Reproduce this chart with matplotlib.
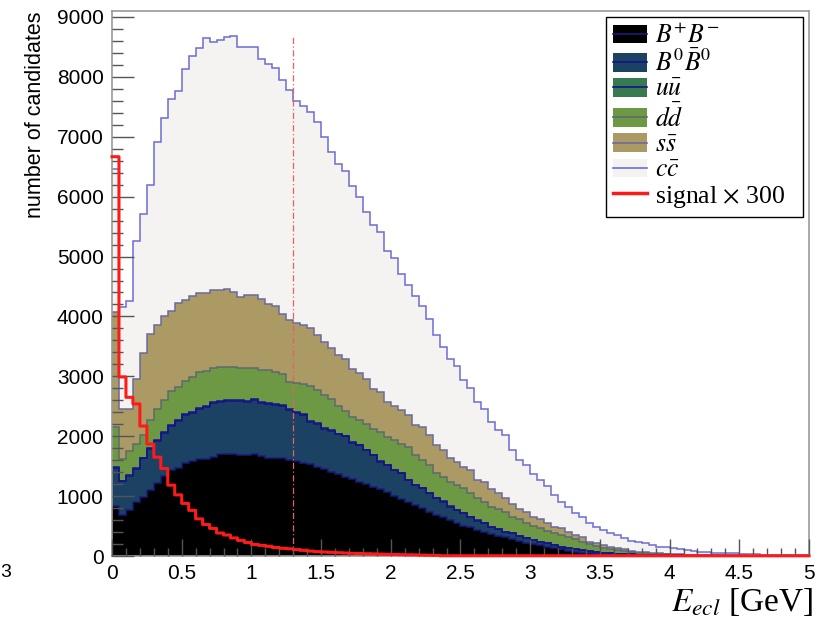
import numpy as np
import matplotlib
matplotlib.use("Agg")
import matplotlib.pyplot as plt
from matplotlib.patches import Patch
from matplotlib.lines import Line2D
from matplotlib.legend_handler import HandlerTuple
from matplotlib.ticker import MultipleLocator

plt.rcParams['font.family'] = ['Liberation Sans', 'DejaVu Sans']
plt.rcParams['mathtext.fontset'] = 'stix'

# 100 bins of 0.05 GeV between 0 and 5 GeV
E_MIN, E_MAX, N_BINS = 0.0, 5.0, 100
edges = np.linspace(E_MIN, E_MAX, N_BINS + 1)

bpbm = [840, 683, 760, 906, 989, 1100, 1211, 1333, 1433, 1470,
        1556, 1585, 1615, 1620, 1655, 1700, 1705, 1711, 1694, 1683,
        1700, 1667, 1644, 1644, 1628, 1600, 1589, 1561, 1533, 1489,
        1461, 1406, 1372, 1322, 1278, 1239, 1200, 1156, 1111, 1072,
        1000, 944, 906, 850, 794, 739, 683, 644, 600, 544,
        500, 478, 433, 406, 367, 333, 311, 278, 256, 222,
        200, 178, 156, 128, 111, 89, 72, 56, 44, 33,
        28, 24, 20, 17, 14, 12, 10, 8, 7, 6,
        5, 4, 4, 3, 3, 3, 2, 2, 2, 2,
        1, 1, 1, 1, 1, 1, 0, 0, 0, 0]

b0b0 = [625, 567, 580, 554, 641, 690, 709, 717, 737, 780,
        794, 805, 846, 870, 895, 872, 890, 878, 889, 889,
        900, 889, 889, 873, 872, 833, 800, 789, 706, 722,
        667, 684, 658, 678, 611, 611, 567, 527, 461, 445,
        433, 434, 361, 333, 334, 305, 278, 262, 222, 223,
        222, 166, 156, 138, 122, 111, 95, 100, 77, 72,
        67, 61, 55, 55, 45, 39, 39, 38, 34, 34,
        28, 24, 20, 17, 14, 12, 10, 9, 7, 6,
        5, 5, 4, 4, 3, 2, 3, 2, 2, 1,
        2, 2, 1, 1, 1, 1, 1, 1, 1, 1]

uu = [15, 10, 10, 12, 13, 14, 15, 16, 16, 17,
      17, 18, 18, 18, 18, 18, 18, 18, 18, 18,
      18, 17, 17, 17, 16, 16, 15, 15, 14, 14,
      13, 13, 12, 12, 11, 11, 10, 10, 9, 9,
      8, 8, 7, 7, 6, 6, 6, 5, 5, 5,
      4, 4, 4, 3, 3, 3, 3, 2, 2, 2,
      2, 2, 2, 1, 1, 1, 1, 1, 1, 1,
      1, 1, 1, 1, 1, 0, 0, 0, 0, 0,
      0, 0, 0, 0, 0, 0, 0, 0, 0, 0,
      0, 0, 0, 0, 0, 0, 0, 0, 0, 0]

dd = [676, 355, 400, 393, 374, 463, 526, 539, 564, 553,
      553, 577, 585, 582, 568, 572, 549, 543, 535, 546,
      522, 538, 550, 538, 528, 457, 490, 513, 580, 542,
      542, 517, 468, 410, 422, 406, 423, 435, 491, 463,
      492, 492, 548, 493, 466, 467, 411, 411, 412, 411,
      402, 396, 368, 359, 330, 331, 319, 276, 276, 260,
      231, 220, 209, 194, 193, 182, 166, 144, 121, 99,
      82, 68, 59, 48, 38, 32, 27, 23, 20, 16,
      14, 12, 10, 8, 7, 6, 5, 5, 4, 4,
      3, 2, 3, 2, 2, 1, 2, 1, 1, 1]

ss = [1916, 846, 711, 1095, 1373, 1433, 1389, 1395, 1335, 1400,
      1358, 1348, 1325, 1299, 1308, 1282, 1299, 1256, 1186, 1214,
      1210, 1183, 1111, 1095, 1000, 1027, 995, 972, 978, 916,
      897, 850, 850, 872, 806, 789, 761, 666, 667, 583,
      567, 555, 528, 500, 556, 500, 472, 445, 389, 389,
      361, 389, 306, 333, 289, 266, 233, 211, 167, 183,
      144, 150, 134, 111, 111, 95, 72, 72, 39, 44,
      44, 39, 28, 28, 22, 16, 15, 13, 11, 10,
      9, 8, 7, 7, 6, 6, 5, 4, 4, 3,
      3, 3, 2, 2, 1, 2, 1, 1, 1, 1]

cc = [2398, 1689, 1789, 2307, 2321, 2500, 3067, 3311, 3543, 3536,
      3850, 4017, 4089, 4255, 4145, 4167, 4211, 4283, 4178, 4150,
      4150, 4000, 4011, 3989, 3900, 3845, 3711, 3667, 3595, 3556,
      3420, 3280, 3184, 3128, 3055, 2933, 2778, 2739, 2667, 2528,
      2478, 2278, 2167, 2150, 2011, 1944, 1833, 1722, 1666, 1595,
      1444, 1378, 1305, 1222, 1128, 1067, 1056, 911, 822, 778,
      723, 656, 611, 528, 445, 416, 361, 345, 305, 278,
      250, 222, 222, 183, 167, 167, 149, 130, 111, 106,
      95, 82, 75, 67, 53, 55, 41, 43, 32, 34,
      24, 25, 21, 19, 17, 15, 14, 12, 10, 8]

# signal already multiplied by 300, as drawn
signal_x300 = [6667, 2990, 2650, 2540, 2170, 1870, 1650, 1461, 1183, 1020,
               878, 762, 620, 525, 461, 384, 350, 302, 260, 225,
               192, 178, 162, 142, 128, 120, 106, 95, 82, 72,
               67, 61, 55, 50, 45, 42, 38, 35, 32, 28,
               25, 22, 20, 18, 15, 13, 11, 4, 4, 4,
               4, 4, 4, 4, 3, 3, 3, 3, 3, 3,
               3, 3, 3, 3, 3, 3, 3, 3, 3, 3,
               3, 3, 3, 3, 3, 3, 3, 3, 3, 3,
               3, 3, 3, 3, 3, 3, 3, 3, 3, 3,
               3, 3, 3, 3, 3, 3, 3, 3, 3, 3]

labels = [r'$B^{+}B^{-}$', r'$B^{0}\bar{B}^{0}$', r'$u\bar{u}$',
          r'$d\bar{d}$', r'$s\bar{s}$', r'$c\bar{c}$', r'signal $\times$ 300']
fills = ['#000000', '#1b4262', '#377a4f', '#6e9944', '#ab9a64', '#f4f3f2']
lines = ['#1a1a80', '#14148a', '#14148a', '#5d6a6e', '#6a6aa0', '#6c6cd6']
cut = 1.3

stack = np.cumsum(np.array([bpbm, b0b0, uu, dd, ss, cc], dtype=float), axis=0)

fig = plt.figure(figsize=(8.18, 6.23), dpi=100)
ax = fig.add_axes([112 / 818, 1 - 556 / 623, 697 / 818, 545 / 623])

for i in reversed(range(len(fills))):
    ax.stairs(stack[i], edges, baseline=0, fill=True, color=fills[i], lw=0, zorder=1)
for i in reversed(range(len(fills))):
    ax.stairs(stack[i], edges, baseline=None, color=lines[i], lw=1.1, zorder=1.2)

sig = np.asarray(signal_x300, dtype=float)
ax.plot(edges, np.append(sig, sig[-1]), drawstyle='steps-post', color='#ff1a1a',
        lw=2.2, zorder=6, clip_on=False, snap=False)
ax.vlines(cut, 0, stack[-1].max(), colors='#e86060', linestyles=(0, (5, 2, 1, 2)),
          lw=0.9, zorder=2)

ax.set_xlim(E_MIN, E_MAX)
ax.set_ylim(0, 9100)
ax.set_axisbelow(False)

xt = np.arange(0, 5.01, 0.5)
ax.set_xticks(xt)
ax.set_xticklabels([f'{v:g}' for v in xt])
ax.set_yticks(np.arange(0, 9001, 1000))
ax.xaxis.set_minor_locator(MultipleLocator(0.1))
ax.yaxis.set_minor_locator(MultipleLocator(200))

ax.tick_params(which='both', direction='in', top=False, right=False,
               color='#555555', labelsize=15, labelcolor='black')
ax.tick_params(axis='x', which='major', length=12, width=1, pad=6)
ax.tick_params(axis='x', which='minor', length=6, width=1)
ax.tick_params(axis='y', which='major', length=16, width=1, pad=6)
ax.tick_params(axis='y', which='minor', length=8, width=1)
for s in ax.spines.values():
    s.set_color('#9a9a9a')
    s.set_linewidth(1.2)
    s.set_zorder(2.5)

ax.set_xlabel(r'$E_{ecl}$ [GeV]', loc='right', fontsize=24,
              family='Liberation Serif')
ax.xaxis.set_label_coords(1.006, -0.055)
ax.set_ylabel('number of candidates', loc='top', fontsize=15.5, labelpad=8)

handles = [(Patch(facecolor=f, edgecolor='none'), Line2D([], [], color=l, lw=1.2))
           for f, l in zip(fills, lines)]
handles.append(Line2D([], [], color='#ff1a1a', lw=2.5))
leg = ax.legend(handles, labels, loc='upper left',
                bbox_to_anchor=(0.709, 0.631, 0.282, 0.358), mode='expand',
                borderaxespad=0, fancybox=False, edgecolor='black', framealpha=1,
                prop=dict(family='Liberation Serif', size=18.5),
                handler_map={tuple: HandlerTuple(ndivide=1)},
                handlelength=1.32, handleheight=0.75, handletextpad=0.32,
                labelspacing=0.07, borderpad=0.27)
leg.get_frame().set_linewidth(1.0)
leg.set_zorder(7)

fig.text(0, 1 - 577 / 623, '3', fontsize=14)

fig.savefig('out.png', dpi=100)
